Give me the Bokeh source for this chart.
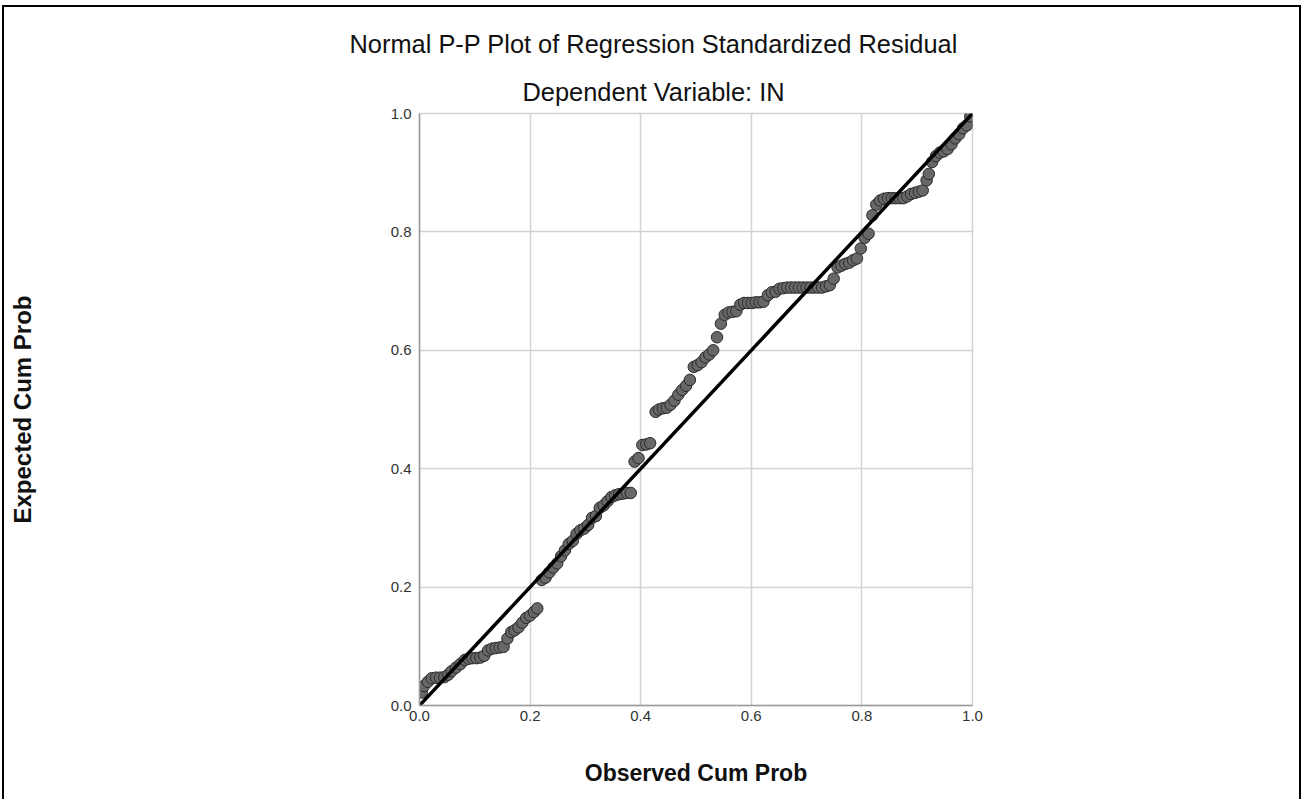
from bokeh.plotting import figure
from bokeh.models import Range1d, FixedTicker, Title
from bokeh.layouts import column
from bokeh.embed import file_html
from bokeh.resources import INLINE

title_text = "Normal P-P Plot of Regression Standardized Residual"
subtitle_text = "Dependent Variable: IN"
x_label = "Observed Cum Prob"
y_label = "Expected Cum Prob"

tick_values = [0.0, 0.2, 0.4, 0.6, 0.8, 1.0]
tick_labels = ["0.0", "0.2", "0.4", "0.6", "0.8", "1.0"]

observed = [
    0.004, 0.008, 0.015, 0.022, 0.030, 0.037, 0.045, 0.052, 0.058, 0.066, 0.074,
    0.082, 0.089, 0.096, 0.103, 0.110, 0.117,
    0.124, 0.131, 0.138, 0.145, 0.152,
    0.159, 0.166, 0.172, 0.179, 0.186, 0.193, 0.200, 0.207, 0.213,
    0.221, 0.228, 0.235, 0.242, 0.249, 0.256, 0.263, 0.270, 0.277, 0.284,
    0.291, 0.298, 0.305, 0.312, 0.319, 0.326, 0.333, 0.340, 0.347, 0.354,
    0.361, 0.368, 0.375, 0.382,
    0.389, 0.396, 0.403, 0.410, 0.417,
    0.427, 0.433, 0.440, 0.447, 0.454, 0.461, 0.468, 0.475, 0.482, 0.489,
    0.496, 0.503, 0.510, 0.517, 0.524, 0.531, 0.538, 0.545, 0.552, 0.559,
    0.566, 0.573, 0.580, 0.587, 0.594, 0.601, 0.608, 0.615, 0.622, 0.630,
    0.637, 0.644, 0.651, 0.658, 0.665, 0.672, 0.679, 0.686, 0.693, 0.700,
    0.707, 0.714, 0.721, 0.728, 0.735, 0.742, 0.749,
    0.756, 0.763, 0.770, 0.777, 0.784, 0.791, 0.798, 0.805, 0.812, 0.819,
    0.826, 0.833, 0.840, 0.847, 0.854, 0.861, 0.868, 0.875, 0.882, 0.889,
    0.896, 0.903, 0.910, 0.917, 0.921, 0.927, 0.934, 0.941, 0.948, 0.955,
    0.962, 0.969, 0.976, 0.983, 0.990, 0.996,
]

expected = [
    0.022, 0.033, 0.040, 0.046, 0.047, 0.047, 0.048, 0.052, 0.058, 0.064, 0.070,
    0.077, 0.079, 0.080, 0.080, 0.081, 0.084,
    0.093, 0.096, 0.097, 0.098, 0.099,
    0.113, 0.124, 0.127, 0.132, 0.140, 0.148, 0.152, 0.158, 0.164,
    0.212, 0.216, 0.225, 0.233, 0.240, 0.252, 0.262, 0.273, 0.278, 0.290,
    0.296, 0.299, 0.305, 0.317, 0.320, 0.334, 0.338, 0.345, 0.352, 0.355,
    0.357, 0.358, 0.359, 0.359,
    0.412, 0.418, 0.440, 0.441, 0.443,
    0.496, 0.500, 0.502, 0.503, 0.508, 0.515, 0.525, 0.533, 0.540, 0.550,
    0.572, 0.575, 0.580, 0.588, 0.593, 0.600, 0.622, 0.645, 0.660, 0.664,
    0.665, 0.666, 0.677, 0.680, 0.680, 0.680, 0.681, 0.681, 0.682, 0.693,
    0.698, 0.699, 0.704, 0.705, 0.706, 0.706, 0.706, 0.706, 0.706, 0.706,
    0.706, 0.706, 0.706, 0.706, 0.708, 0.710, 0.721,
    0.740, 0.743, 0.746, 0.748, 0.752, 0.755, 0.772, 0.790, 0.797, 0.828,
    0.846, 0.853, 0.856, 0.857, 0.857, 0.857, 0.857, 0.857, 0.860, 0.864,
    0.866, 0.868, 0.870, 0.887, 0.898, 0.918, 0.928, 0.934, 0.936, 0.940,
    0.948, 0.958, 0.965, 0.975, 0.980, 0.995,
]

ref_x = [0.0, 1.0]
ref_y = [0.0, 1.0]

FONT = "Liberation Sans"
GRID = "#d2d2d2"

p = figure(
    width=1295, height=792,
    x_range=Range1d(0, 1), y_range=Range1d(0, 1),
    output_backend="svg", toolbar_location=None,
    min_border_left=415, min_border_right=327,
    min_border_top=106, min_border_bottom=94,
    background_fill_color="white", border_fill_color="white",
)
p.outline_line_color = GRID
p.outline_line_width = 1.5

for ax in (p.xaxis[0], p.yaxis[0]):
    ax.ticker = FixedTicker(ticks=tick_values)
    ax.major_label_overrides = {v: s for v, s in zip(tick_values, tick_labels)}
    ax.major_tick_line_color = None
    ax.minor_tick_line_color = None
    ax.major_tick_out = 0
    ax.major_tick_in = 0
    ax.axis_line_color = "#9a9a9a"
    ax.axis_line_width = 1.5
    ax.major_label_text_font = FONT
    ax.major_label_text_font_size = "15px"
    ax.major_label_text_color = "#333333"
    ax.axis_label_text_font = FONT
    ax.axis_label_text_font_style = "bold"
    ax.axis_label_text_font_size = "23px"
    ax.axis_label_text_color = "#111111"

p.yaxis.axis_label_text_font_size = "24px"
p.xaxis.axis_label = x_label
p.yaxis.axis_label = y_label
p.xaxis.major_label_standoff = 5
p.xaxis.axis_label_standoff = 36
p.yaxis.major_label_standoff = 8
p.yaxis.axis_label_standoff = 352

p.grid.ticker = FixedTicker(ticks=tick_values)
p.grid.grid_line_color = GRID
p.grid.grid_line_width = 1.5

p.scatter(observed, expected, size=11.5, fill_color="#686868",
          line_color="#2a2a2a", line_width=1)
p.line(ref_x, ref_y, line_width=3.5, line_color="black")

p.add_layout(Title(text=subtitle_text, align="left", offset=103, standoff=16,
                   text_font=FONT, text_font_size="25.4px",
                   text_font_style="normal", text_color="#111111"), "above")
p.add_layout(Title(text=title_text, align="left", offset=-70, standoff=20,
                   text_font=FONT, text_font_size="25.4px",
                   text_font_style="normal", text_color="#111111"), "above")

layout = column(p, styles={"border-top": "2px solid black",
                           "border-left": "2px solid black",
                           "border-right": "2px solid black",
                           "margin-top": "5px",
                           "margin-left": "2px"})

open("out.html", "w").write(file_html(layout, INLINE))
